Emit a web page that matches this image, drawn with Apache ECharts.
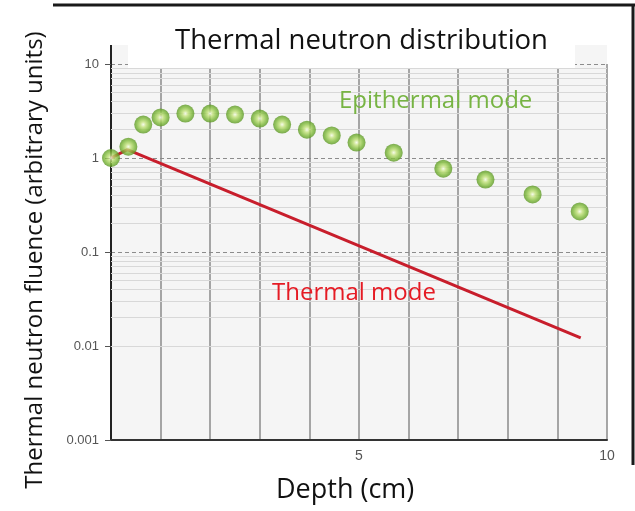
<!DOCTYPE html>
<html>
<head>
<meta charset="utf-8">
<script src="https://cdn.jsdelivr.net/npm/echarts@6/dist/echarts.min.js"></script>
<style>html,body{margin:0;padding:0;background:#fff;}#c{width:635px;height:511px;}</style>
</head>
<body>
<div id="c"></div>
<script>
// Epithermal mode points [depth cm, fluence]
const epiDepth = [0, 0.35, 0.65, 1.0, 1.5, 2.0, 2.5, 3.0, 3.45, 3.95, 4.45, 4.95, 5.7, 6.7, 7.55, 8.5, 9.45];
const epiValue = [1.0, 1.32, 2.27, 2.7, 2.97, 2.97, 2.9, 2.63, 2.27, 2.0, 1.74, 1.46, 1.14, 0.77, 0.59, 0.41, 0.27];
// Thermal mode line
const thDepth = [0, 0.33, 9.47];
const thValue = [1.0, 1.23, 0.0122];
// axis ticks
const yMajor = [0.001, 0.01, 0.1, 1, 10];
const xLabels = [5, 10];
const minorMult = [2, 3, 4, 5, 6, 7, 8, 9];

const minorLines = [];
for (let i = 0; i < yMajor.length - 1; i++) {
  for (const m of minorMult) minorLines.push({ yAxis: yMajor[i] * m });
}

const chart = echarts.init(document.getElementById('c'));
const FONT = 'Open Sans';
chart.setOption({
  animation: false,
  backgroundColor: '#fff',
  grid: { left: 111, right: 28, top: 64, bottom: 71, show: true, backgroundColor: '#f5f5f5', borderWidth: 0 },
  title: {
    text: 'Thermal neutron distribution',
    left: 170, top: 22, z: 20,
    textStyle: { fontFamily: FONT, fontSize: 27.5, fontWeight: 'normal', color: '#111' }
  },
  xAxis: {
    type: 'value', min: 0, max: 10, interval: 1,
    axisLine: { show: true, lineStyle: { color: '#333', width: 2 } },
    axisTick: { show: false },
    axisLabel: { margin: 9, color: '#555', fontSize: 14, fontFamily: 'Liberation Sans',
      formatter: v => xLabels.indexOf(v) >= 0 ? String(v) : '' },
    splitLine: { show: true, lineStyle: { color: '#8a8a8a', width: 1.5 } }
  },
  yAxis: {
    type: 'log', min: 0.001, max: 10, logBase: 10,
    axisLine: { show: true, lineStyle: { color: '#222', width: 2 } },
    axisTick: { show: true, length: 6, lineStyle: { color: '#555' } },
    axisLabel: { margin: 12, color: '#555', fontSize: 13, fontFamily: 'Liberation Sans',
      formatter: v => String(+v.toPrecision(3)) },
    splitLine: { show: true, lineStyle: { color: '#8c8c8c', type: [4, 3], width: 1 } }
  },
  series: [
    {
      type: 'line', data: [], z: 1, silent: true,
      markLine: { silent: true, z: 1, symbol: 'none', label: { show: false }, animation: false,
        lineStyle: { color: '#d8d8d8', type: 'solid', width: 1 }, data: minorLines }
    },
    {
      name: 'Thermal mode', type: 'line', z: 3,
      data: thDepth.map((d, i) => [d, thValue[i]]),
      showSymbol: false, lineStyle: { color: '#c81e2c', width: 3 }
    },
    {
      name: 'Epithermal mode', type: 'scatter', z: 4,
      data: epiDepth.map((d, i) => [d, epiValue[i]]),
      symbolSize: 18,
      itemStyle: {
        color: { type: 'radial', x: 0.5, y: 0.5, r: 0.5,
          colorStops: [
            { offset: 0, color: '#f6fce8' },
            { offset: 0.3, color: '#c2e27a' },
            { offset: 0.7, color: '#80bb3a' },
            { offset: 1, color: '#5a9624' }
          ] }
      }
    }
  ],
  graphic: [
    { type: 'rect', shape: { x: 111, y: 45, width: 496, height: 19 }, style: { fill: '#f5f5f5' }, z: 0 },
    { type: 'line', shape: { x1: 111, y1: 45, x2: 111, y2: 64 }, style: { stroke: '#222', lineWidth: 2 }, z: 5 },
    { type: 'rect', shape: { x: 128, y: 8, width: 447, height: 60 }, style: { fill: '#fff' }, z: 15 },
    { type: 'line', shape: { x1: 53, y1: 5, x2: 635, y2: 5 }, style: { stroke: '#1a1a1a', lineWidth: 3 }, z: 16 },
    { type: 'line', shape: { x1: 633, y1: 5, x2: 633, y2: 465 }, style: { stroke: '#1a1a1a', lineWidth: 3 }, z: 16 },
    { type: 'text', left: 339, top: 89, z: 16,
      style: { text: 'Epithermal mode', fill: '#77b443', font: '24px "Open Sans"' } },
    { type: 'text', left: 272, top: 281, z: 16,
      style: { text: 'Thermal mode', fill: '#e51b24', font: '24px "Open Sans"' } },
    { type: 'text', left: 276, top: 477, z: 16,
      style: { text: 'Depth (cm)', fill: '#111', font: '27px "Open Sans"' } },
    { type: 'text', x: 35, y: 260, rotation: Math.PI / 2, z: 16,
      style: { text: 'Thermal neutron fluence (arbitrary units)', fill: '#111', font: '24px "Open Sans"',
        align: 'center', verticalAlign: 'middle' } }
  ]
});
</script>
</body>
</html>
